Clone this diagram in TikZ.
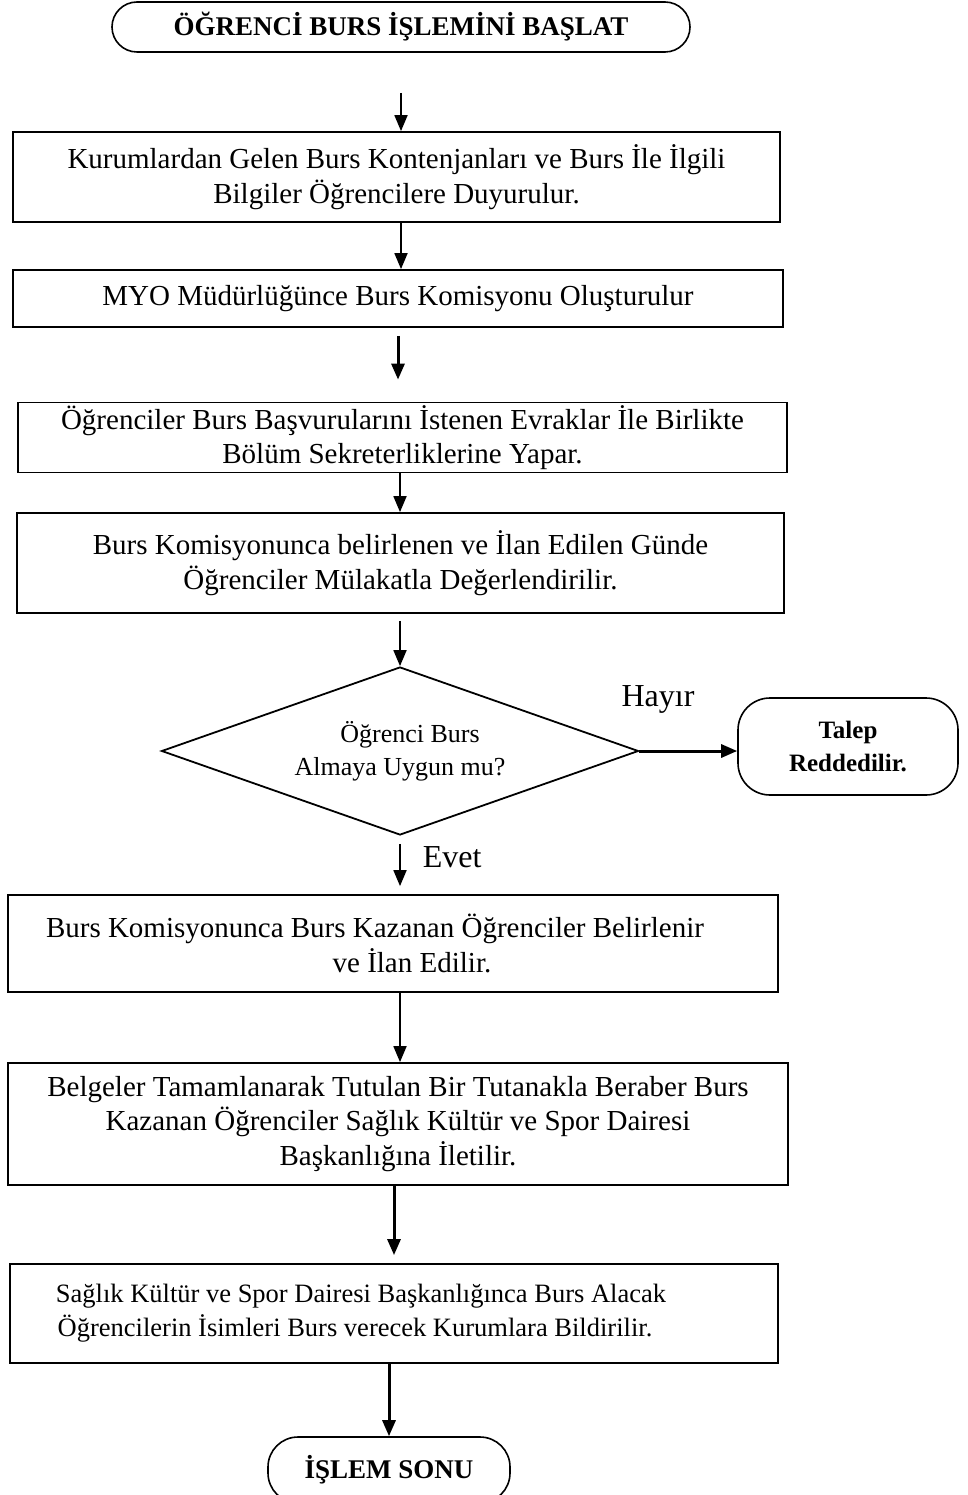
\documentclass[tikz,border=0pt]{standalone}
\usepackage{fontspec}
\setmainfont{Liberation Serif}
\usetikzlibrary{arrows.meta,positioning,shapes.geometric}
\tikzset{
  proc/.style ={draw, line width=1.8pt, align=center, inner sep=0pt,
                font=\fontsize{29}{34.5}\selectfont},
  term/.style ={draw, line width=1.6pt, align=center, inner sep=0pt,
                font=\fontsize{27}{33}\selectfont\bfseries},
  check/.style={draw, diamond, line width=1.8pt, align=center, inner sep=0pt,
                aspect=2.8, font=\fontsize{26}{33}\selectfont},
  arrow/.style={-{Triangle[length=16pt,width=13pt]}, line width=1.8pt},
  tarrow/.style={arrow, line width=3pt},
  lbl/.style  ={inner sep=0pt, font=\fontsize{32}{34}\selectfont},
}
\begin{document}
\begin{tikzpicture}[x=1pt,y=-1pt]
    \useasboundingbox (0,0) rectangle (968,1495);
    \node[term, minimum width=578pt, minimum height=50pt, rounded corners=25pt] (start) at (401,27) {ÖĞRENCİ BURS İŞLEMİNİ BAŞLAT};
    \node[proc, minimum width=767pt, minimum height=90pt] (b1) at (396.5,177) {Kurumlardan Gelen Burs Kontenjanları ve Burs İle İlgili\\Bilgiler Öğrencilere Duyurulur.};
    \node[proc, minimum width=770pt, minimum height=57pt] (b2) at (398,298.5) {MYO Müdürlüğünce Burs Komisyonu Oluşturulur};
    \node[proc, minimum width=769pt, minimum height=70pt] (b3) at (402.5,437.5) {Öğrenciler Burs Başvurularını İstenen Evraklar İle Birlikte\\Bölüm Sekreterliklerine Yapar.};
    \node[proc, minimum width=767pt, minimum height=100pt] (b4) at (400.5,563) {Burs Komisyonunca belirlenen ve İlan Edilen Günde\\Öğrenciler Mülakatla Değerlendirilir.};
    \node[check, minimum width=477pt, minimum height=168pt] (chk) at (400,751) {\hspace*{20pt}Öğrenci Burs\\Almaya Uygun mu?};
    \node[term, minimum width=220pt, minimum height=97pt, rounded corners=32pt, font=\fontsize{25}{33}\selectfont\bfseries] (rej) at (848,746.5) {Talep\\Reddedilir.};
    \node[proc, minimum width=770pt, minimum height=97pt] (b5) at (393,943.5) {Burs Komisyonunca Burs Kazanan Öğrenciler Belirlenir\hspace*{36pt}\\\hspace*{38pt}ve İlan Edilir.};
    \node[proc, minimum width=780pt, minimum height=122pt] (b6) at (398,1124) {Belgeler Tamamlanarak Tutulan Bir Tutanakla Beraber Burs\\Kazanan Öğrenciler Sağlık Kültür ve Spor Dairesi\\Başkanlığına İletilir.};
    \node[proc, minimum width=768pt, minimum height=99pt, font=\fontsize{26.5}{34}\selectfont] (b7) at (394,1313.5) {Sağlık Kültür ve Spor Dairesi Başkanlığınca Burs Alacak\hspace*{66pt}\\Öğrencilerin İsimleri Burs verecek Kurumlara Bildirilir.\hspace*{78pt}};
    \node[term, minimum width=242pt, minimum height=66pt, rounded corners=30pt] (stop) at (389,1470) {İŞLEM SONU};
    % connectors
    \draw[arrow, shorten <=40pt] (start.south) -- (start.south |- b1.north);
    \draw[arrow] (b1.south -| start.south) -- (b2.north -| start.south);
    \draw[tarrow, shorten <=8pt, shorten >=22pt] (b2.south) -- (b2.south |- b3.north);
    \draw[arrow] (b3.south -| chk.north) -- (b4.north -| chk.north);
    \draw[arrow, shorten <=7pt] (b4.south -| chk.north) -- (chk.north);
    \draw[tarrow] (chk.east) -- (chk.east -| rej.west)
      node[lbl, pos=0.19, above=36pt] {Hayır};
    \draw[arrow, shorten <=8pt, shorten >=8pt] (chk.south) -- (b5.north -| chk.south)
      node[lbl, pos=0.37, anchor=west, xshift=22pt] {Evet};
    \draw[arrow] (b5.south -| chk.south) -- (b6.north -| chk.south);
    \draw[tarrow, shorten >=8pt] (b6.south -| b7.north) -- (b7.north);
    \draw[tarrow] (b7.south -| stop.north) -- (stop.north);
\end{tikzpicture}
\end{document}
